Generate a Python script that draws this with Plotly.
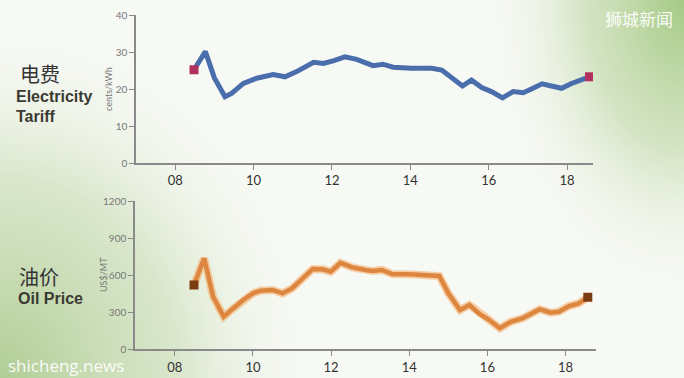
import base64
import plotly.graph_objects as go

# ---------------- data ----------------
elec_x = [8.48, 8.77, 9.0, 9.27, 9.44, 9.74, 10.08, 10.5, 10.8, 11.1, 11.53, 11.78, 12.03,
          12.33, 12.63, 13.05, 13.3, 13.56, 14.03, 14.54, 14.8, 15.05, 15.33, 15.56, 15.82,
          16.07, 16.35, 16.62, 16.88, 17.13, 17.36, 17.6, 17.86, 18.11, 18.33, 18.57]
elec_y = [25.2, 30.1, 23.0, 17.9, 18.8, 21.5, 22.9, 23.9, 23.3, 24.7, 27.2, 26.9, 27.6,
          28.7, 28.0, 26.3, 26.7, 25.9, 25.6, 25.6, 25.1, 23.2, 20.8, 22.4, 20.4,
          19.3, 17.6, 19.3, 19.0, 20.2, 21.4, 20.8, 20.2, 21.5, 22.2, 23.3]

oil_x = [8.49, 8.75, 8.98, 9.25, 9.5, 9.75, 10.0, 10.2, 10.5, 10.76, 11.0, 11.53, 11.78,
         11.99, 12.24, 12.54, 12.88, 13.05, 13.3, 13.56, 14.0, 14.51, 14.77, 15.0, 15.3,
         15.54, 15.8, 16.05, 16.32, 16.6, 16.9, 17.11, 17.34, 17.62, 17.83, 18.09, 18.34, 18.57]
oil_y = [520, 736, 425, 264, 332, 399, 453, 474, 480, 453, 493, 650, 647,
         628, 700, 663, 642, 633, 642, 609, 607, 601, 593, 453, 318,
         358, 286, 237, 170, 223, 251, 286, 324, 296, 304, 350, 372, 421]

x_tickvals = [8, 10, 12, 14, 16, 18]
x_ticktext = ["08", "10", "12", "14", "16", "18"]
elec_ticks = [0, 10, 20, 30, 40]
oil_ticks = [0, 300, 600, 900, 1200]

W, H = 684, 378

# ---------------- background (gradient) ----------------
svg = f'''<svg xmlns="http://www.w3.org/2000/svg" width="{W}" height="{H}" viewBox="0 0 {W} {H}">
<defs>
<radialGradient id="bl" cx="0" cy="{H}" r="1" gradientUnits="userSpaceOnUse"
  gradientTransform="translate(0 {H}) scale(320 360) translate(0 -{H})">
<stop offset="0" stop-color="#b0cd95" stop-opacity="1"/>
<stop offset="0.55" stop-color="#cfe0bd" stop-opacity="0.75"/>
<stop offset="1" stop-color="#f6f8f2" stop-opacity="0"/>
</radialGradient>
<radialGradient id="tr" cx="{W}" cy="0" r="1" gradientUnits="userSpaceOnUse"
  gradientTransform="translate({W} 0) scale(200 300) translate(-{W} 0)">
<stop offset="0" stop-color="#a4c984" stop-opacity="1"/>
<stop offset="0.5" stop-color="#c9ddb4" stop-opacity="0.75"/>
<stop offset="1" stop-color="#f6f8f2" stop-opacity="0"/>
</radialGradient>
</defs>
<rect width="{W}" height="{H}" fill="#f7f9f4"/>
<rect width="{W}" height="{H}" fill="url(#bl)"/>
<rect width="{W}" height="{H}" fill="url(#tr)"/>
</svg>'''
bg_src = "data:image/svg+xml;base64," + base64.b64encode(svg.encode()).decode()

fig = go.Figure()

# electricity
fig.add_trace(go.Scatter(x=elec_x, y=elec_y, mode="lines", xaxis="x", yaxis="y",
                         line=dict(color="#4a6dac", width=5), hoverinfo="skip"))
fig.add_trace(go.Scatter(x=[elec_x[0], elec_x[-1]], y=[elec_y[0], elec_y[-1]], mode="markers",
                         xaxis="x", yaxis="y",
                         marker=dict(symbol="square", size=9, color="#b2305e")))
# oil (with soft glow)
fig.add_trace(go.Scatter(x=oil_x, y=oil_y, mode="lines", xaxis="x2", yaxis="y2",
                         line=dict(color="rgba(245,170,100,0.55)", width=8), hoverinfo="skip"))
fig.add_trace(go.Scatter(x=oil_x, y=oil_y, mode="lines", xaxis="x2", yaxis="y2",
                         line=dict(color="#dc8640", width=4.5), hoverinfo="skip"))
fig.add_trace(go.Scatter(x=[oil_x[0], oil_x[-1]], y=[oil_y[0], oil_y[-1]], mode="markers",
                         xaxis="x2", yaxis="y2",
                         marker=dict(symbol="square", size=9, color="#7c3c12")))

tickfont_x = dict(family="Lato, Open Sans, sans-serif", size=13, color="#333333")
tickfont_y = dict(family="Lato, Open Sans, sans-serif", size=10, color="#777777")
axcol = "#8a8a8a"

common_x = dict(tickvals=x_tickvals, ticktext=x_ticktext, showgrid=False, zeroline=False,
                showline=True, linecolor=axcol, linewidth=1.5, ticks="outside", ticklen=5,
                tickcolor=axcol, tickwidth=1, tickfont=tickfont_x, automargin=False)
common_y = dict(showgrid=False, zeroline=False, showline=True, linecolor=axcol, linewidth=1.5,
                ticks="outside", ticklen=5, tickcolor=axcol, tickwidth=1, tickfont=tickfont_y,
                automargin=False)

fig.update_layout(
    width=W, height=H, margin=dict(l=0, r=0, t=0, b=0, pad=0, autoexpand=False), autosize=False,
    paper_bgcolor="#f7f9f4", plot_bgcolor="rgba(0,0,0,0)", showlegend=False,
    xaxis=dict(domain=[136 / W, 593 / W], range=[7.0, 18.66], anchor="y", **common_x),
    yaxis=dict(domain=[1 - 163 / H, 1 - 15 / H], range=[0, 40], tickvals=elec_ticks,
               anchor="x", **common_y),
    xaxis2=dict(domain=[135 / W, 596 / W], range=[6.98, 18.78], anchor="y2", **common_x),
    yaxis2=dict(domain=[1 - 349.3 / H, 1 - 201 / H], range=[0, 1200], tickvals=oil_ticks,
                anchor="x2", **common_y),
    images=[dict(source=bg_src, xref="paper", yref="paper", x=0, y=1, sizex=1, sizey=1,
                 xanchor="left", yanchor="top", sizing="stretch", layer="below")],
)

cjk = "Noto Sans CJK SC"
ann = []
def add(text, x, y, size, color, family, angle=0, xanchor="left", bold=False):
    ann.append(dict(text=(f"<b>{text}</b>" if bold else text), x=x / W, y=1 - y / H,
                    xref="paper", yref="paper", showarrow=False, textangle=angle,
                    xanchor=xanchor, yanchor="middle",
                    font=dict(family=family, size=size, color=color)))

add("电费", 18, 73, 20, "#333333", cjk)
add("Electricity", 14, 96, 16, "#3a3a32", "Liberation Sans, Arial", bold=True)
add("Tariff", 14, 116, 16, "#3a3a32", "Liberation Sans, Arial", bold=True)
add("油价", 17, 276, 20, "#333333", cjk)
add("Oil Price", 16, 298, 16, "#3a3a32", "Liberation Sans, Arial", bold=True)
add("cents/kWh", 108, 89, 9, "#777777", "Lato, sans-serif", angle=-90, xanchor="center")
add("US$/MT", 103, 275, 9, "#777777", "Lato, sans-serif", angle=-90, xanchor="center")
add("狮城新闻", 639, 18, 17, "rgba(255,255,255,0.95)", cjk, xanchor="center")
add("shicheng.news", 66, 365, 17, "rgba(255,255,255,0.95)", "Open Sans, sans-serif",
    xanchor="center")
fig.update_layout(annotations=ann)

fig.write_html("out.html", config={"displayModeBar": False, "responsive": False},
               post_script="document.body.style.margin='0';")
